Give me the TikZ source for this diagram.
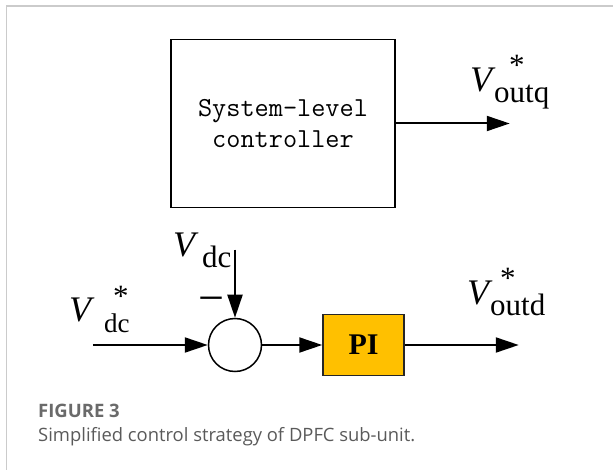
\documentclass[tikz,border=0pt]{standalone}
\usepackage{fontspec}
\setmainfont{Liberation Serif}
\newfontfamily\captionfont{Open Sans}
\usetikzlibrary{arrows.meta,positioning}

\definecolor{pifill}{HTML}{FFC000}
\definecolor{framegray}{HTML}{CBCBCB}
\definecolor{capgray}{HTML}{6A6A6A}
\definecolor{captext}{HTML}{5A5A5A}

% V with subscript (#1), gap (#2), star shift (#3), subscript size (#4)
\newcommand{\Vmeas}[2]{{\fontsize{36}{36}\selectfont\itshape V}\hspace{#2}\raisebox{-11pt}{\fontsize{31}{31}\selectfont #1}}
\newcommand{\Vref}[4]{{\fontsize{36}{36}\selectfont\itshape V}\hspace{#2}\makebox[0pt][l]{\hspace{#3}\raisebox{16pt}{\fontsize{31}{31}\selectfont *}}\raisebox{-11pt}{\fontsize{#4}{#4}\selectfont #1}}

\begin{document}
\begin{tikzpicture}[x=1pt,y=-1pt]

		\tikzstyle{block}=[rectangle,
			draw=black,line width=1.5pt,
			minimum width=224pt,minimum height=168pt,inner sep=0pt,
			align=center,font=\ttfamily\fontsize{27.5}{31}\selectfont]
		\tikzstyle{pibox}=[rectangle,fill=pifill,draw=black!85,line width=1.5pt,
			minimum width=81pt,minimum height=61pt,inner sep=0pt,
			font=\bfseries\fontsize{30}{30}\selectfont]
		\tikzstyle{sum}=[circle,draw=black,line width=1.5pt,minimum size=53pt,inner sep=0pt]
		\tikzstyle{sig}=[anchor=base west,inner sep=0pt]
		\tikzstyle{signal}=[->,>={Triangle[length=23pt,width=15pt]},line width=2pt]

		\useasboundingbox (0,0) rectangle (613,470);
		\draw[framegray,line width=1.2pt] (613,6) -- (6.5,6) -- (6.5,470);

		% upper part
		\node[block]	(slc)	at (283,123.5)	{System-level\\controller};
		\coordinate[right=114pt of slc] (qout);
		\draw[signal] (slc) -- (qout);
		\node[sig]	(voutq)	at (470,92)	{\Vref{outq}{2pt}{15pt}{31}};

		% lower part
		\node[sum]	(sum)	at (235,345)	{};
		\node[pibox,right=60pt of sum]	(pi)	{PI};
		\coordinate[left=115pt of sum]	(dcin);
		\coordinate[above=68pt of sum]	(dctop);
		\coordinate[right=114pt of pi]	(dout);

		\draw[signal] (dcin) -- (sum);
		\draw[signal] (dctop) -- (sum);
		\draw[signal] (sum) -- (pi);
		\draw[signal] (pi) -- (dout);

		\node[sig]	(vdcref)	at (69,322)	{\Vref{dc}{13pt}{9pt}{27}};
		\node[sig]	(vdc)	at (173,257)	{\Vmeas{dc}{7pt}};
		\node[font=\fontsize{46}{46}\selectfont,inner sep=0pt]	(neg)	at (211,305)	{−};
		\node[sig]	(voutd)	at (467,305)	{\Vref{outd}{1pt}{10pt}{31}};

		% caption
		\node[sig,font=\captionfont\bfseries\fontsize{18.5}{18.5}\selectfont,text=capgray]	(fig)	at (38,417)	{FIGURE 3};
		\node[sig,font=\captionfont\fontsize{18.4}{18.4}\selectfont,text=captext]	(cap)	at (38,441)	{Simplified control strategy of DPFC sub-unit.};

	\end{tikzpicture}
\end{document}
